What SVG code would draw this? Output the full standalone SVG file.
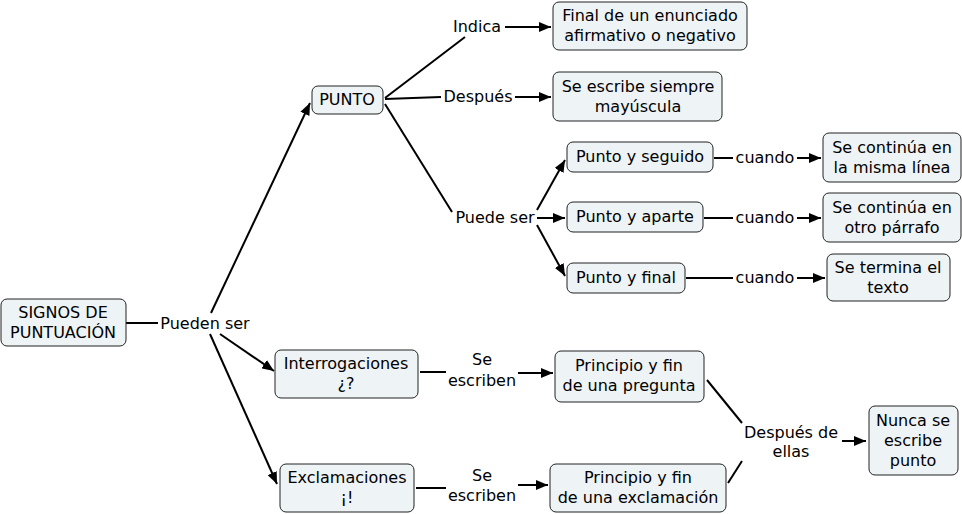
<svg xmlns="http://www.w3.org/2000/svg" width="962" height="514" viewBox="0 0 962 514">
<style>
.n{fill:#eef3f6;stroke:#222;stroke-width:1}
.t{font-family:"DejaVu Sans",Verdana,sans-serif;font-size:16px;fill:#000;text-anchor:middle}
.c line{stroke:#000;stroke-width:2}
.a{marker-end:url(#ah)}
</style>
<defs>
<marker id="ah" viewBox="0 0 12 10" refX="12" refY="5" markerWidth="12" markerHeight="10" markerUnits="userSpaceOnUse" orient="auto">
<path d="M0,0 L12,5 L0,10 Z" fill="#000"/>
</marker>
</defs>
<rect width="962" height="514" fill="#fff"/>
<g class="c">
<line x1="126" y1="323" x2="158" y2="323"/>
<line class="a" x1="211" y1="313" x2="310" y2="103"/>
<line class="a" x1="220" y1="334" x2="274" y2="371"/>
<line class="a" x1="210" y1="334" x2="277" y2="484"/>
<line x1="385" y1="98" x2="465" y2="37"/>
<line class="a" x1="505" y1="27" x2="551" y2="27"/>
<line x1="385" y1="99" x2="441" y2="97"/>
<line class="a" x1="515" y1="97" x2="551" y2="97"/>
<line x1="385" y1="104" x2="452" y2="212"/>
<line class="a" x1="537" y1="210" x2="565" y2="160"/>
<line class="a" x1="537" y1="218" x2="565" y2="218"/>
<line class="a" x1="537" y1="225" x2="565" y2="276"/>
<line x1="714" y1="158" x2="733" y2="158"/>
<line class="a" x1="797" y1="158" x2="821" y2="158"/>
<line x1="704" y1="218" x2="733" y2="218"/>
<line class="a" x1="797" y1="218" x2="821" y2="218"/>
<line x1="686" y1="278" x2="733" y2="278"/>
<line class="a" x1="797" y1="278" x2="825" y2="278"/>
<line x1="420" y1="372" x2="446" y2="372"/>
<line class="a" x1="518" y1="373" x2="553" y2="373"/>
<line x1="416" y1="488" x2="446" y2="488"/>
<line class="a" x1="518" y1="485" x2="548" y2="485"/>
<line x1="707" y1="380" x2="742" y2="423"/>
<line x1="728" y1="483" x2="742" y2="461"/>
<line class="a" x1="842" y1="441" x2="866" y2="441"/>
</g>
<g id="lbl-pueden"><text class="t" x="205" y="329">Pueden ser</text></g>
<g id="lbl-indica"><text class="t" x="477" y="32">Indica</text></g>
<g id="lbl-despues"><text class="t" x="478" y="102">Después</text></g>
<g id="lbl-puede"><text class="t" x="495" y="223">Puede ser</text></g>
<g id="lbl-cuando1"><text class="t" x="765" y="163">cuando</text></g>
<g id="lbl-cuando2"><text class="t" x="765" y="223">cuando</text></g>
<g id="lbl-cuando3"><text class="t" x="765" y="283">cuando</text></g>
<g id="lbl-se1"><text class="t" x="482" y="365">Se</text><text class="t" x="482" y="386">escriben</text></g>
<g id="lbl-se2"><text class="t" x="482" y="481">Se</text><text class="t" x="482" y="501">escriben</text></g>
<g id="lbl-despuesde"><text class="t" x="791" y="438">Después de</text><text class="t" x="791" y="457">ellas</text></g>
<g id="signos"><rect class="n" x="1" y="299" width="125" height="47" rx="6"/><text class="t" x="63" y="318">SIGNOS DE</text><text class="t" x="63" y="338">PUNTUACIÓN</text></g>
<g id="punto"><rect class="n" x="312" y="86" width="71" height="28" rx="6"/><text class="t" x="347" y="105">PUNTO</text></g>
<g id="final"><rect class="n" x="553" y="2" width="194" height="48" rx="6"/><text class="t" x="650" y="21">Final de un enunciado</text><text class="t" x="650" y="41">afirmativo o negativo</text></g>
<g id="mayuscula"><rect class="n" x="553" y="72" width="169" height="49" rx="6"/><text class="t" x="638" y="92">Se escribe siempre</text><text class="t" x="638" y="112">mayúscula</text></g>
<g id="seguido"><rect class="n" x="567" y="142" width="146" height="30" rx="6"/><text class="t" x="640" y="162">Punto y seguido</text></g>
<g id="aparte"><rect class="n" x="567" y="202" width="136" height="30" rx="6"/><text class="t" x="635" y="222">Punto y aparte</text></g>
<g id="pfinal"><rect class="n" x="567" y="263" width="118" height="30" rx="6"/><text class="t" x="626" y="283">Punto y final</text></g>
<g id="misma"><rect class="n" x="823" y="133" width="138" height="49" rx="6"/><text class="t" x="892" y="153">Se continúa en</text><text class="t" x="892" y="173">la misma línea</text></g>
<g id="otro"><rect class="n" x="823" y="193" width="138" height="49" rx="6"/><text class="t" x="892" y="213">Se continúa en</text><text class="t" x="892" y="233">otro párrafo</text></g>
<g id="termina"><rect class="n" x="827" y="254" width="123" height="47" rx="6"/><text class="t" x="888" y="273">Se termina el</text><text class="t" x="888" y="293">texto</text></g>
<g id="interrog"><rect class="n" x="275" y="350" width="143" height="48" rx="6"/><text class="t" x="346" y="369">Interrogaciones</text><text class="t" x="346" y="389">¿?</text></g>
<g id="pregunta"><rect class="n" x="555" y="351" width="149" height="51" rx="6"/><text class="t" x="629" y="371">Principio y fin</text><text class="t" x="629" y="391">de una pregunta</text></g>
<g id="exclam"><rect class="n" x="280" y="464" width="134" height="48" rx="6"/><text class="t" x="347" y="483">Exclamaciones</text><text class="t" x="347" y="503">¡!</text></g>
<g id="exclamacion"><rect class="n" x="550" y="464" width="176" height="48" rx="6"/><text class="t" x="638" y="483">Principio y fin</text><text class="t" x="638" y="503">de una exclamación</text></g>
<g id="nunca"><rect class="n" x="869" y="406" width="89" height="69" rx="6"/><text class="t" x="913" y="426">Nunca se</text><text class="t" x="913" y="446">escribe</text><text class="t" x="913" y="466">punto</text></g>
</svg>
